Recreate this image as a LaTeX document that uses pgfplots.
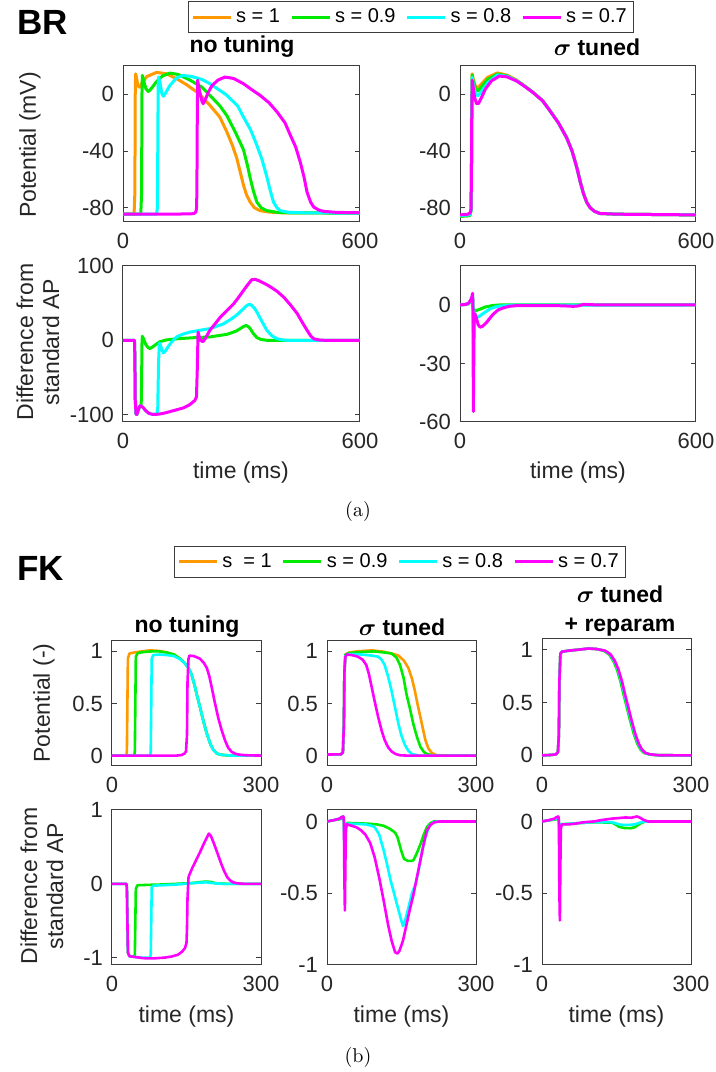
\documentclass[border=0pt]{standalone}
\usepackage{amsmath}
\usepackage{fontspec}
\setsansfont{Liberation Sans}
\usepackage{pgfplots}
\pgfplotsset{compat=1.18}
\definecolor{cOr}{RGB}{255,153,0}
\definecolor{cGr}{RGB}{0,235,0}
\definecolor{cCy}{RGB}{0,255,255}
\definecolor{cMa}{RGB}{255,0,255}
\definecolor{axc}{RGB}{60,60,60}
\pgfplotsset{
  myax/.style={
    scale only axis, anchor=south west,
    axis line style={axc, line width=0.5pt},
    tick style={axc, line width=0.5pt},
    tick align=inside, major tick length=2.5pt,
    ticklabel style={font=\sffamily\fontsize{11}{11}\selectfont, text=black!85},
    xticklabel style={yshift=-2pt},
    yticklabel style={xshift=-1pt},
    every axis plot/.append style={line width=1.5pt, line join=round},
    legend style={draw=axc, line width=0.5pt, font=\sffamily\fontsize{10}{10}\selectfont,
      legend columns=4, anchor=center, inner sep=1.5pt,
      /tikz/every even column/.append style={column sep=3pt}},
    legend image code/.code={\draw[#1, line width=1.5pt] (0pt,0pt) -- (19pt,0pt);},
  },
  brtop/.style={myax, width=118.5pt, height=78pt, xmin=0, xmax=600, ymin=-90, ymax=20,
    xtick={0,600}, xticklabels={0,600}, ytick={-80,-40,0}, yticklabels={-80,-40,0}},
  fkax/.style={myax, width=74.5pt, xmin=0, xmax=300, xtick={0,300}, xticklabels={0,300},
    every axis plot/.append style={line width=1.3pt}},
}
\begin{document}
\begin{tikzpicture}
\useasboundingbox (0pt,0pt) rectangle (358pt,536pt);
% ================= BR top-left
\begin{axis}[brtop, at={(61.5pt,425pt)},
  legend style={at={(1.215,1.314)}}]
\addplot[cOr] coordinates {(0,-84.5) (28,-84.5) (30,-70) (31,0) (32,14.5) (34,12) (38,6) (42,5) (48,8) (60,12.5) (85,15.5) (110,14.5) (136,11) (160,7) (190,1) (220,-7.7) (245,-16) (263,-26.5) (277,-36) (288,-45) (297,-55) (305,-64) (313,-71) (322,-76) (333,-80) (347,-82) (370,-83) (400,-83.5) (600,-83.8)};
\addlegendentry{s = 1}
\addplot[cGr] coordinates {(0,-84.5) (45,-84.5) (47,-70) (48,0) (49,13.4) (52,10) (58,4) (64,2) (70,3.5) (85,9) (100,13) (119,15) (140,14) (170,10) (200,5) (220,-0.7) (245,-8) (263,-15) (285,-27) (305,-39) (315,-50) (322,-59) (330,-68) (339,-76) (350,-80) (364,-82) (390,-83.2) (420,-83.5) (600,-83.8)};
\addlegendentry{s = 0.9}
\addplot[cCy] coordinates {(0,-84.5) (85,-84.5) (87,-80) (88,-40) (89,5) (90,12.2) (94,8) (98,1) (102,-1.4) (108,1) (118,6) (135,11.5) (152,13.4) (175,12.5) (200,10.5) (220,7.5) (260,0) (290,-8) (305,-16) (323,-25) (339,-36) (352,-46) (364,-58) (373,-68) (381,-76) (390,-80) (398,-82) (420,-83.2) (460,-83.5) (600,-83.8)};
\addlegendentry{s = 0.8}
\addplot[cMa] coordinates {(0,-84.5) (100,-84.5) (170,-84.3) (180,-84) (184,-83) (186,-81) (187,-70) (188,-20) (189,10) (190,8) (195,1) (200,-5) (203,-6.6) (208,-4) (215,1) (225,6) (240,10) (258,12.2) (280,11.2) (305,7.5) (325,3.5) (347,-0.7) (370,-6) (390,-12.4) (410,-20) (424,-29) (437,-37) (449,-48) (458,-58) (466,-69) (475,-76) (483,-79.5) (495,-81.5) (508,-82.5) (540,-83.2) (600,-83.5)};
\addlegendentry{s = 0.7}
\end{axis}
% ================= BR top-right
\begin{axis}[brtop, at={(230pt,425pt)}, width=118pt]
\addplot[cOr] coordinates {(0,-86) (25,-85.5) (28,-82) (29,-60) (30,-10) (31,14.5) (34,10) (40,5.5) (46,4.7) (55,7.5) (70,12) (95,15.1) (120,13.5) (144,10) (165,5.8) (186,1.3) (210,-4.5) (229,-11.7) (250,-20) (271,-30.5) (285,-40) (297,-51.6) (306,-62) (314,-70) (322,-76) (331,-80) (342,-82.5) (356,-84) (400,-84.5) (600,-85)};
\addplot[cGr] coordinates {(0,-86) (25,-85.5) (28,-82) (29,-60) (30,-10) (31,13.6) (34,9) (40,3.5) (46,2.3) (55,5.5) (70,10.5) (95,14.3) (120,13) (144,9.8) (165,5.7) (186,1.3) (210,-4.5) (229,-11.7) (250,-20) (271,-30.5) (285,-40) (297,-51.6) (306,-62) (314,-70) (322,-76) (331,-80) (342,-82.5) (356,-84) (400,-84.5) (600,-85)};
\addplot[cCy] coordinates {(0,-85.5) (25,-85) (28,-82) (29,-60) (30,-10) (31,12) (34,6) (40,0) (46,-1) (55,2) (70,8) (95,13.7) (120,12.7) (144,9.6) (165,5.6) (186,1.2) (210,-4.5) (229,-11.7) (250,-20) (271,-30.5) (285,-40) (297,-51.6) (306,-62) (314,-70) (322,-76) (331,-80) (342,-82.5) (356,-84) (400,-84.5) (600,-85)};
\addplot[cMa] coordinates {(0,-85) (20,-84.5) (26,-83.5) (28,-81) (29,-60) (30,-10) (31,10) (33,6) (37,-2) (42,-6.6) (47,-6.4) (55,-2) (65,4) (80,9.5) (100,12.9) (120,12.3) (144,9.4) (165,5.5) (186,1.2) (210,-4.5) (229,-11.7) (250,-20) (271,-30.5) (285,-40) (297,-51.6) (306,-62) (314,-70) (322,-76) (331,-80) (342,-82.5) (356,-84) (400,-84.5) (600,-85)};
\end{axis}
% ================= BR bottom-left
\begin{axis}[myax, at={(61.5pt,325pt)}, width=118.5pt, height=78pt, xmin=0, xmax=600, ymin=-110, ymax=100,
  xtick={0,600}, xticklabels={0,600}, ytick={-100,0,100}, yticklabels={-100,0,100}]
\addplot[cGr] coordinates {(0,0) (29,0) (30,-20) (31,-80) (33,-99) (35,-100) (38,-95) (42,-89) (45,-88) (46,-88) (47,-60) (48,-5) (49,5.4) (52,2) (58,-6) (64,-10) (68,-11) (75,-9) (85,-5) (93,-2) (110,0.5) (136,2) (180,3.5) (220,4.5) (263,8) (285,12) (297,15.7) (305,18.5) (312,20) (318,18) (322,15.7) (330,9) (339,3.6) (350,1) (364,0) (600,0)};
\addplot[cCy] coordinates {(0,0) (29,0) (30,-20) (31,-80) (33,-99) (35,-100) (38,-95) (42,-89) (45,-88) (50,-90) (58,-95) (66,-98.5) (76,-99.8) (86,-99) (88,-90) (90,-30) (92,-5) (93,-3.6) (97,-10) (102,-17) (108,-14) (115,-8) (125,-1) (136,4.5) (150,8) (169,11) (195,13.5) (220,15.7) (254,22) (275,29) (288,34) (300,40) (314,47) (320,48.5) (326,47) (333,43) (339,38) (350,27) (364,13.5) (377,6) (390,2) (405,0.5) (415,0) (600,0)};
\addplot[cMa] coordinates {(0,0) (29,0) (30,-20) (31,-80) (33,-99) (35,-100) (38,-95) (42,-89) (45,-88) (50,-90) (58,-95) (66,-98.5) (76,-99.8) (90,-99.5) (105,-98) (119,-96) (136,-93.5) (153,-91) (168,-87) (182,-81) (186,-76) (188,-40) (190,11) (193,5) (197,0) (202,-2) (208,2) (220,13.5) (233,22) (246,31) (263,40) (280,49) (293,58) (305,67) (316,75) (326,81.6) (335,82) (345,80) (360,76) (373,72) (390,66) (407,58) (425,47) (441,36) (454,24) (466,13.5) (475,6) (483,2) (495,0.5) (508,0) (600,0)};
\end{axis}
% ================= BR bottom-right
\begin{axis}[myax, at={(230pt,325pt)}, width=118pt, height=78pt, xmin=0, xmax=600, ymin=-60, ymax=20,
  xtick={0,600}, xticklabels={0,600}, ytick={-60,-30,0}, yticklabels={-60,-30,0}]
\addplot[cGr] coordinates {(0,0) (22,0.6) (30,3) (32,4) (33,0) (34,-10) (35,-4) (38,-2.5) (41,-2.9) (50,-2.2) (65,-1) (85,-0.2) (100,0) (600,0)};
\addplot[cCy] coordinates {(0,0) (15,0.2) (22,0.8) (27,2) (30,3.5) (32,5) (33,0) (34,-20) (35,-8) (37,-4) (42,-6.3) (48,-6) (58,-4.5) (76,-2) (90,-1) (102,-0.5) (130,-0.1) (600,0)};
\addplot[cMa] coordinates {(0,0) (15,0.3) (22,1) (27,2.5) (30,4) (32,6) (33,0) (34,-54.6) (35,-30) (36,-8) (38,-4.6) (42,-7) (46,-10) (51,-11.4) (57,-11) (68,-8.8) (77,-6.5) (85,-4.6) (97,-2.5) (110,-1.5) (125,-0.7) (144,-0.3) (200,-0.3) (260,-0.4) (288,-0.7) (300,-0.5) (314,0.3) (330,0.2) (350,0) (600,0)};
\end{axis}
% ================= FK top-left
\begin{axis}[fkax, at={(56pt,153pt)}, height=62.5pt, ymin=-0.1, ymax=1.1,
  ytick={0,0.5,1}, yticklabels={0,0.5,1}, legend style={at={(1.933,1.632)}}]
\addplot[cOr] coordinates {(0,0) (29,0) (30,0.05) (31,0.5) (32,0.93) (35,0.98) (45,0.99) (60,1.0) (76,1.01) (95,1.005) (110,0.99) (125,0.97) (137,0.93) (146,0.89) (154,0.84) (160,0.78) (166,0.68) (171,0.58) (178,0.45) (184,0.33) (191,0.21) (198,0.11) (204,0.055) (211,0.02) (220,0.007) (240,0) (300,0)};
\addlegendentry{s\ \ = 1}
\addplot[cGr] coordinates {(0,0) (45,0) (46,0.05) (47,0.5) (48,0.95) (52,0.985) (65,0.995) (80,1.0) (95,1.0) (110,0.99) (125,0.97) (137,0.93) (146,0.89) (154,0.84) (160,0.78) (166,0.68) (171,0.58) (178,0.45) (184,0.33) (191,0.21) (198,0.11) (204,0.055) (211,0.02) (220,0.007) (240,0) (300,0)};
\addlegendentry{s = 0.9}
\addplot[cCy] coordinates {(0,0) (77,0) (78,0.05) (79,0.5) (80,0.93) (83,0.965) (95,0.97) (110,0.965) (125,0.955) (137,0.925) (146,0.89) (154,0.84) (160,0.78) (166,0.68) (171,0.58) (178,0.45) (184,0.33) (191,0.21) (198,0.11) (204,0.055) (211,0.02) (220,0.007) (240,0) (300,0)};
\addlegendentry{s = 0.8}
\addplot[cMa] coordinates {(0,0) (130,0) (140,0.005) (146,0.02) (149,0.04) (151,0.2) (152,0.7) (154,0.93) (156,0.96) (165,0.955) (177,0.93) (185,0.89) (191,0.84) (196,0.76) (201,0.65) (207,0.51) (214,0.36) (221,0.24) (228,0.14) (234,0.075) (241,0.035) (250,0.015) (258,0.008) (270,0.003) (300,0)};
\addlegendentry{s = 0.7}
\end{axis}
% ================= FK top-middle
\begin{axis}[fkax, at={(163.5pt,153pt)}, height=62.5pt, ymin=-0.1, ymax=1.1,
  ytick={0,0.5,1}, yticklabels={0,0.5,1}]
\addplot[cOr] coordinates {(0,0.01) (28,0.012) (32,0.03) (34,0.3) (35,0.8) (37,0.97) (45,0.99) (60,1.0) (75,1.005) (90,1.01) (110,1.0) (130,0.98) (144,0.96) (155,0.91) (164,0.84) (171,0.74) (177,0.62) (182,0.5) (188,0.37) (193,0.26) (198,0.15) (204,0.07) (211,0.025) (220,0.005) (240,0) (300,0)};
\addplot[cGr] coordinates {(0,0.01) (28,0.012) (32,0.03) (34,0.3) (35,0.8) (37,0.97) (45,0.985) (70,0.995) (95,1.0) (115,0.99) (130,0.98) (140,0.94) (147,0.87) (154,0.75) (160,0.59) (167,0.45) (174,0.30) (181,0.18) (188,0.085) (195,0.035) (201,0.015) (215,0) (300,0)};
\addplot[cCy] coordinates {(0,0.01) (28,0.012) (32,0.03) (34,0.3) (35,0.8) (37,0.96) (45,0.975) (70,0.97) (90,0.96) (103,0.95) (110,0.92) (116,0.87) (123,0.76) (130,0.62) (137,0.46) (144,0.30) (150,0.19) (157,0.10) (164,0.045) (171,0.015) (185,0) (300,0)};
\addplot[cMa] coordinates {(0,0.01) (28,0.012) (32,0.03) (34,0.3) (35,0.8) (37,0.95) (40,0.97) (50,0.965) (62,0.95) (72,0.92) (79,0.87) (84,0.79) (89,0.68) (96,0.52) (103,0.37) (110,0.24) (116,0.15) (123,0.08) (130,0.04) (138,0.015) (147,0.003) (160,0) (300,0)};
\end{axis}
% ================= FK top-right
\begin{axis}[fkax, at={(271pt,153pt)}, height=63.5pt, ymin=-0.1, ymax=1.1,
  ytick={0,0.5,1}, yticklabels={0,0.5,1}]
\addplot[cOr] coordinates {(0,0) (20,0.005) (28,0.01) (32,0.03) (34,0.2) (35,0.7) (37,0.96) (40,0.98) (54,0.99) (75,1.0) (94,1.01) (110,1.005) (125,0.99) (136,0.955) (145,0.89) (152,0.81) (159,0.70) (165,0.58) (172,0.45) (179,0.32) (186,0.2) (193,0.11) (199,0.057) (206,0.025) (216,0.01) (233,0.002) (300,0)};
\addplot[cGr] coordinates {(0,0) (20,0.005) (28,0.01) (32,0.03) (34,0.2) (35,0.7) (37,0.96) (40,0.98) (54,0.99) (75,1.0) (94,1.01) (110,1.005) (124,0.99) (135,0.955) (144,0.89) (151,0.81) (158,0.70) (164,0.58) (171,0.45) (178,0.32) (185,0.2) (192,0.11) (198,0.057) (205,0.025) (215,0.01) (232,0.002) (300,0)};
\addplot[cCy] coordinates {(0,0) (20,0.005) (28,0.01) (32,0.03) (34,0.2) (35,0.7) (37,0.96) (40,0.98) (54,0.99) (75,1.0) (94,1.01) (110,1.005) (126,0.99) (137,0.955) (146,0.89) (153,0.81) (160,0.70) (166,0.58) (173,0.45) (180,0.32) (187,0.2) (194,0.11) (200,0.057) (207,0.025) (217,0.01) (234,0.002) (300,0)};
\addplot[cMa] coordinates {(0,0) (20,0.005) (28,0.01) (32,0.03) (34,0.2) (35,0.7) (37,0.96) (40,0.98) (54,0.99) (75,1.0) (94,1.01) (110,1.005) (127,0.99) (138,0.955) (147,0.89) (154,0.81) (161,0.70) (167,0.58) (174,0.45) (181,0.32) (188,0.2) (195,0.11) (201,0.057) (208,0.025) (218,0.01) (235,0.002) (300,0)};
\end{axis}
% ================= FK bottom-left
\begin{axis}[fkax, at={(56pt,53.5pt)}, height=77.5pt, ymin=-1.1, ymax=1,
  ytick={-1,0,1}, yticklabels={-1,0,1}]
\addplot[cGr] coordinates {(0,0) (29,0) (30,-0.05) (31,-0.5) (32,-0.93) (35,-0.98) (45,-0.99) (46,-0.95) (47,-0.5) (48,-0.07) (51,-0.02) (70,-0.015) (97,-0.01) (130,0.0) (161,0.01) (180,0.025) (189,0.03) (200,0.025) (207,0.01) (215,0.003) (230,0) (300,0)};
\addplot[cCy] coordinates {(0,0) (29,0) (30,-0.05) (31,-0.5) (32,-0.93) (35,-0.98) (45,-0.99) (60,-1.0) (77,-1.0) (78,-0.95) (79,-0.5) (80,-0.05) (83,-0.025) (100,-0.02) (130,-0.01) (155,0.005) (175,0.015) (190,0.02) (200,0.012) (210,0.005) (225,0) (300,0)};
\addplot[cMa] coordinates {(0,0) (29,0) (30,-0.05) (31,-0.5) (32,-0.93) (35,-0.98) (45,-0.99) (60,-1.005) (69,-1.01) (85,-1.01) (106,-1.0) (120,-0.985) (133,-0.96) (141,-0.92) (147,-0.87) (150,-0.8) (151,-0.6) (152,-0.2) (154,0.08) (155,0.11) (162,0.22) (170,0.33) (178,0.44) (186,0.56) (195,0.68) (199,0.65) (205,0.55) (212,0.42) (220,0.27) (226,0.17) (232,0.09) (238,0.045) (244,0.02) (252,0.007) (265,0) (300,0)};
\end{axis}
% ================= FK bottom-middle
\begin{axis}[fkax, at={(163.5pt,53.5pt)}, height=77.5pt, ymin=-1, ymax=0.08,
  ytick={-1,-0.5,0}, yticklabels={-1,-0.5,0}]
\addplot[cGr] coordinates {(0,0) (15,0.01) (25,0.015) (29,0.02) (33,0.025) (34,0) (35,-0.1) (36,-0.15) (37,-0.05) (40,-0.01) (80,-0.015) (100,-0.02) (114,-0.03) (126,-0.05) (137,-0.077) (142,-0.11) (146,-0.16) (150,-0.21) (155,-0.26) (163,-0.275) (170,-0.275) (174,-0.27) (181,-0.22) (188,-0.16) (195,-0.09) (201,-0.04) (208,-0.012) (215,0) (300,0)};
\addplot[cCy] coordinates {(0,0) (15,0.01) (25,0.02) (29,0.03) (33,0.035) (34,0) (35,-0.2) (36,-0.3) (37,-0.1) (40,-0.015) (60,-0.017) (77,-0.02) (90,-0.03) (96,-0.04) (105,-0.09) (114,-0.2) (121,-0.3) (128,-0.41) (135,-0.5) (141,-0.58) (148,-0.67) (153,-0.73) (158,-0.68) (164,-0.6) (171,-0.5) (178,-0.44) (185,-0.33) (192,-0.2) (199,-0.1) (206,-0.03) (213,-0.008) (222,0) (300,0)};
\addplot[cMa] coordinates {(0,0) (15,0.01) (25,0.02) (29,0.03) (33,0.035) (34,0) (35,-0.4) (36,-0.62) (37,-0.3) (38,-0.05) (40,-0.02) (50,-0.03) (59,-0.04) (68,-0.06) (77,-0.09) (87,-0.15) (96,-0.25) (105,-0.39) (114,-0.55) (123,-0.72) (130,-0.83) (137,-0.91) (142,-0.92) (146,-0.9) (153,-0.83) (160,-0.72) (167,-0.61) (174,-0.51) (181,-0.39) (188,-0.27) (195,-0.15) (201,-0.065) (208,-0.025) (215,-0.007) (225,0) (300,0)};
\end{axis}
% ================= FK bottom-right
\begin{axis}[fkax, at={(271pt,53.5pt)}, height=77.5pt, ymin=-1, ymax=0.08,
  ytick={-1,-0.5,0}, yticklabels={-1,-0.5,0}]
\addplot[cGr] coordinates {(0,0) (29,0.015) (33,0.02) (34,0) (35,-0.05) (37,-0.02) (60,-0.015) (100,-0.005) (141,-0.008) (150,-0.025) (155,-0.037) (165,-0.045) (178,-0.047) (187,-0.04) (193,-0.025) (200,-0.01) (208,0) (300,0)};
\addplot[cCy] coordinates {(0,0) (29,0.02) (33,0.025) (34,0) (35,-0.1) (36,-0.15) (38,-0.02) (60,-0.015) (100,-0.005) (141,-0.005) (150,-0.015) (159,-0.023) (175,-0.024) (187,-0.02) (195,-0.01) (202,-0.003) (210,0) (300,0)};
\addplot[cMa] coordinates {(0,0) (15,0.01) (25,0.02) (29,0.03) (33,0.035) (34,0) (35,-0.5) (36,-0.69) (37,-0.3) (38,-0.05) (40,-0.02) (55,-0.02) (67,-0.015) (85,-0.005) (104,0.0) (120,0.01) (141,0.02) (168,0.028) (180,0.026) (191,0.035) (198,0.025) (205,0.01) (214,0) (300,0)};
\end{axis}
% ================= texts
\begin{scope}[every node/.style={font=\sffamily\fontsize{11.5}{13}\selectfont, text=black}]
\node[anchor=west, font=\sffamily\bfseries\fontsize{17.5}{17.5}\selectfont] at (5pt,525pt) {BR};
\node[font=\sffamily\bfseries\fontsize{11.5}{13}\selectfont] at (121pt,512.5pt) {no tuning};
\node[font=\sffamily\bfseries\fontsize{11.5}{13}\selectfont] at (298.5pt,512.5pt) {$\boldsymbol{\sigma}$ tuned};
\node[rotate=90, text=black!85] at (15pt,463.5pt) {Potential (mV)};
\node[rotate=90, align=center, text=black!85] at (19pt,365pt) {Difference from\\standard AP};
\node[text=black!85] at (120.5pt,299.5pt) {time (ms)};
\node[text=black!85] at (289pt,299.5pt) {time (ms)};
\node[font=\rmfamily\fontsize{10}{12}\selectfont] at (179pt,280pt) {(a)};
\node[anchor=west, font=\sffamily\bfseries\fontsize{17.5}{17.5}\selectfont] at (5pt,252pt) {FK};
\node[font=\sffamily\bfseries\fontsize{11.5}{13}\selectfont] at (93.5pt,222.5pt) {no tuning};
\node[font=\sffamily\bfseries\fontsize{11.5}{13}\selectfont] at (201pt,222.5pt) {$\boldsymbol{\sigma}$ tuned};
\node[font=\sffamily\bfseries\fontsize{11.5}{13}\selectfont] at (310pt,239pt) {$\boldsymbol{\sigma}$ tuned};
\node[font=\sffamily\bfseries\fontsize{11.5}{13}\selectfont] at (310pt,222.5pt) {+ reparam};
\node[rotate=90, text=black!85] at (22pt,184.5pt) {Potential (-)};
\node[rotate=90, align=center, text=black!85] at (21pt,93pt) {Difference from\\standard AP};
\node[text=black!85] at (93.25pt,27.5pt) {time (ms)};
\node[text=black!85] at (200.75pt,27.5pt) {time (ms)};
\node[text=black!85] at (308.25pt,27.5pt) {time (ms)};
\node[font=\rmfamily\fontsize{10}{12}\selectfont] at (179pt,7.5pt) {(b)};
\end{scope}
\end{tikzpicture}
\end{document}
